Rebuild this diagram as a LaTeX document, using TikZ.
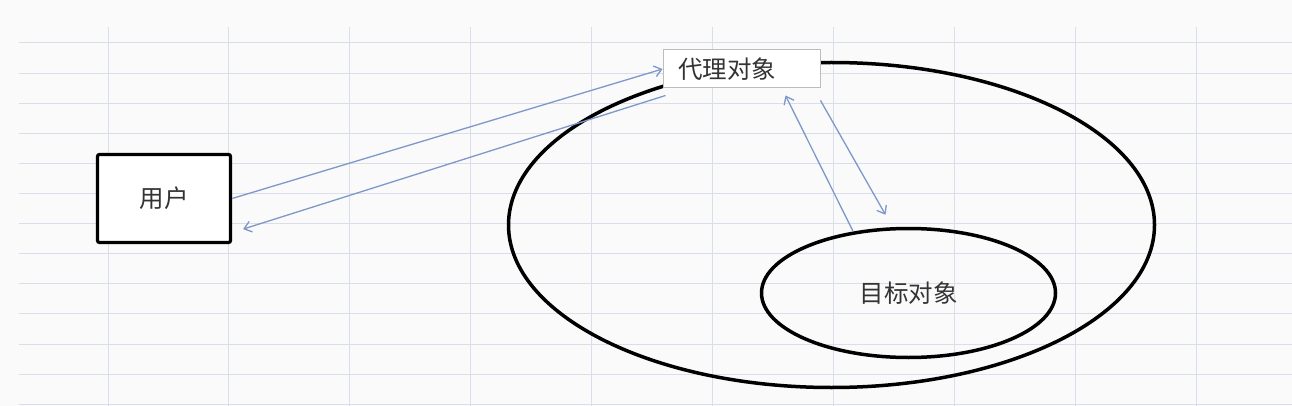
\documentclass[tikz,border=0pt]{standalone}
\usepackage{fontspec}
\usepackage{xcolor}
\usepackage{tikz}
\usetikzlibrary{calc,arrows.meta,shapes.geometric}
\newfontfamily\cjk{Noto Sans CJK SC}
\definecolor{paper}{HTML}{FAFAFA}
\definecolor{gridc}{HTML}{DADDEA}
\definecolor{ink}{HTML}{333333}
\definecolor{link}{HTML}{7D98C9}
\definecolor{frame}{HTML}{BDBDBD}
\tikzset{
  gridline/.style={draw=gridc, line width=1pt},
  lab/.style={text=ink, font=\cjk\fontsize{24.5}{27}\selectfont},
  userbox/.style={draw=black, line width=3.2pt, rounded corners=2pt, fill=white, minimum width=133pt, minimum height=88pt, lab},
  proxybox/.style={draw=frame, line width=1pt, fill=white, text width=127pt, inner xsep=15pt, minimum height=38pt, align=left, lab},
  ring/.style={ellipse, draw=black, line width=3.5pt, inner sep=0pt},
  arrowline/.style={draw=link, line width=1.3pt, -{Straight Barb[length=7pt,width=11pt]}},
}

\begin{document}
\begin{tikzpicture}[x=1pt,y=-1pt]
\useasboundingbox[fill=paper] (0,0) rectangle (1292,406);
\foreach \k in {0,...,12} \draw[gridline] (19,43+30.1*\k) -- (1292,43+30.1*\k);
\foreach \k in {0,...,9} \draw[gridline] (108+120.9*\k,27) -- (108+120.9*\k,406);

\node[ring, minimum width=646pt, minimum height=325pt] (outer) at (831.5,225) {};
\node[ring, lab, minimum width=294pt, minimum height=129pt] (target) at (908.5,293) {目标对象};
\node[userbox] (user) at (164,198.5) {用户};
\node[proxybox] (proxy) at (741.5,69) {代理对象};

\draw[arrowline] (user.east) -- (proxy.west);
\draw[arrowline] ($(proxy.south west)+(3,7)$) -- ($(user.south east)+(11,-15)$);
\draw[arrowline] (target.132) -- ($(proxy.south east)+(-35,7)$);
\draw[arrowline] ($(proxy.south east)+(0,12)$) -- ($(target.north)+(-23,-12)$);
\end{tikzpicture}
\end{document}
